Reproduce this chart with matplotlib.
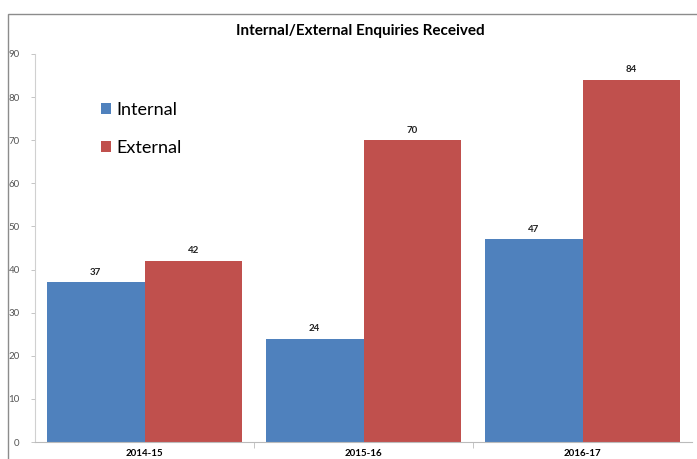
import matplotlib
matplotlib.use("Agg")
import matplotlib.pyplot as plt
from matplotlib.patches import Rectangle
import numpy as np

# chart data
years = ["2014-15", "2015-16", "2016-17"]
internal = [37, 24, 47]
external = [42, 70, 84]

plt.rcParams['font.family'] = ['Lato', 'DejaVu Sans']

fig = plt.figure(figsize=(6.97, 4.59), dpi=100)
# outer chart border (runs off the right and bottom edges)
fig.patches.append(Rectangle((8 / 697, -0.1), 1.2, 0.1 + 1 - 14 / 459,
                             transform=fig.transFigure, fill=False,
                             edgecolor='#8c8c8c', linewidth=1.0))

ax = fig.add_axes([35 / 697, 1 - 442 / 459, 657 / 697, 388 / 459])

x = np.arange(len(years))
w = 0.447
b1 = ax.bar(x - w / 2, internal, w, color='#4F81BD', label='Internal')
b2 = ax.bar(x + w / 2, external, w, color='#C0504D', label='External')

for bars in (b1, b2):
    for r in bars:
        ax.text(r.get_x() + r.get_width() / 2, r.get_height() + 1.3,
                str(int(r.get_height())), ha='center', va='bottom',
                fontsize=7, fontweight='bold', color='#222222')

ax.set_xlim(-0.5, 2.5)
ax.set_ylim(0, 90)
ax.set_yticks(range(0, 91, 10))
ax.tick_params(axis='y', labelsize=7, colors='#555555', length=3, width=0.6,
               color='#bbbbbb', pad=8)
ax.set_xticks(x)
ax.set_xticklabels(years, fontsize=7, fontweight='bold')
ax.set_xticks([0.5, 1.5], minor=True)
ax.tick_params(axis='x', which='major', length=0, pad=5)
ax.tick_params(axis='x', which='minor', length=4, color='#bbbbbb')

for s in ('top', 'right'):
    ax.spines[s].set_visible(False)
ax.spines['left'].set_color('#d0d0d0')
ax.spines['bottom'].set_color('#bbbbbb')

ax.legend(loc='upper left', bbox_to_anchor=(0.075, 0.918), frameon=False,
          fontsize=13, handlelength=0.6, handleheight=0.6, handletextpad=0.3,
          labelspacing=1.2)

fig.text(360 / 697, 1 - 31 / 459, "Internal/External Enquiries Received",
         ha='center', va='center', fontsize=11, fontweight='bold')

fig.savefig("out.png", dpi=100)
